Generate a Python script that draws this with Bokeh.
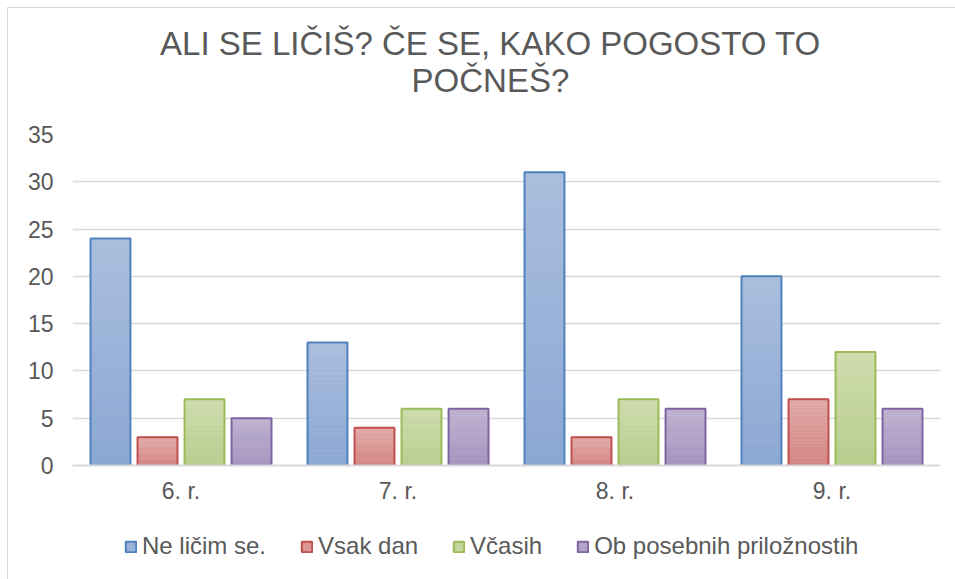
from bokeh.plotting import figure
from bokeh.models import ColumnDataSource, FactorRange, Legend, LegendItem, Label, BoxAnnotation
from bokeh.layouts import column
from bokeh.transform import dodge
from bokeh.embed import file_html
from bokeh.resources import INLINE

categories = ["6. r.", "7. r.", "8. r.", "9. r."]
series_names = ["Ne ličim se.", "Vsak dan", "Včasih", "Ob posebnih priložnostih"]
ne_licim = [24, 13, 31, 20]
vsak_dan = [3, 4, 3, 7]
vcasih = [7, 6, 7, 12]
ob_posebnih = [5, 6, 6, 6]
y_ticks = [0, 5, 10, 15, 20, 25, 30, 35]
title_lines = ["ALI SE LIČIŠ? ČE SE, KAKO POGOSTO TO", "POČNEŠ?"]

series_values = [ne_licim, vsak_dan, vcasih, ob_posebnih]
line_colors = ["#4F81BD", "#C0504D", "#9BBB59", "#8064A2"]
top_colors = ["#AABEDD", "#E1A9A7", "#CEDCAD", "#BFB2D0"]
bottom_colors = ["#8AA7D3", "#D38582", "#B8CD8D", "#A493BF"]
mid_colors = ["#9AB2D8", "#DA9794", "#C3D59D", "#B1A2C7"]

FONT = "Liberation Sans"
TEXT = "#595959"
GRID = "#D9D9D9"
W = 947


def strip(height, xr, yr):
    f = figure(width=W, height=height, x_range=xr, y_range=yr, output_backend="svg",
               toolbar_location=None, x_axis_location=None, y_axis_location=None, min_border=0)
    f.outline_line_color = None
    f.grid.grid_line_color = None
    return f


# ---- title strip ----
tt = strip(100, (0, W), (0, 100))
for txt, ty in zip(title_lines, [65, 28]):
    tt.add_layout(Label(x=456, y=ty, text=txt, text_align="center", text_baseline="middle",
                        text_font=FONT, text_font_size="33px", text_color=TEXT))

# ---- main chart ----
p = figure(width=W, height=408, x_range=FactorRange(*categories), y_range=(0, 35),
           output_backend="svg", toolbar_location=None, title=None,
           min_border_left=64, min_border_right=15, min_border_top=26, min_border_bottom=51)
p.outline_line_color = None

offsets = [-0.325, -0.1083, 0.1083, 0.325]
bar_w = 0.184
N = 24


def hex2rgb(h):
    return tuple(int(h[i:i + 2], 16) for i in (1, 3, 5))


def mix(c1, c2, t):
    a, b = hex2rgb(c1), hex2rgb(c2)
    return "#%02x%02x%02x" % tuple(round(a[i] + (b[i] - a[i]) * t) for i in range(3))


for s, vals in enumerate(series_values):
    base = ColumnDataSource(dict(cat=categories, val=vals))
    xs, bots, tops, cols = [], [], [], []
    for c, v in zip(categories, vals):
        for k in range(N):
            xs.append(c)
            bots.append(v * k / N)
            tops.append(v * (k + 1) / N)
            cols.append(mix(bottom_colors[s], top_colors[s], (k + 0.5) / N))
    grad = ColumnDataSource(dict(cat=xs, b=bots, t=tops, c=cols))
    p.vbar(x=dodge("cat", offsets[s], range=p.x_range), top="t", bottom="b", width=bar_w - 0.004,
           source=grad, fill_color="c", line_color="c", line_width=0.6)
    p.vbar(x=dodge("cat", offsets[s], range=p.x_range), top="val", bottom=0, width=bar_w,
           source=base, fill_color=None, line_color=line_colors[s], line_width=2)

p.ygrid.ticker = y_ticks
p.ygrid.grid_line_color = GRID
p.ygrid.grid_line_width = 1.5
p.xgrid.grid_line_color = None

p.yaxis.ticker = y_ticks
p.yaxis.axis_line_color = None
p.yaxis.major_tick_line_color = None
p.yaxis.minor_tick_line_color = None
p.yaxis.major_label_text_font = FONT
p.yaxis.major_label_text_font_size = "23px"
p.yaxis.major_label_text_color = TEXT
p.yaxis.major_label_standoff = 13

p.xaxis.axis_line_color = GRID
p.xaxis.axis_line_width = 2
p.xaxis.major_tick_line_color = None
p.xaxis.minor_tick_line_color = None
p.xaxis.major_label_text_font = FONT
p.xaxis.major_label_text_font_size = "23px"
p.xaxis.major_label_text_color = TEXT
p.xaxis.major_label_standoff = 6

# ---- legend strip: swatch bars sit outside its y-range and are masked by a white box ----
lg = strip(63, FactorRange(*categories), (1000, 1001))
legend_items = []
for s, (name, vals) in enumerate(zip(series_names, series_values)):
    src = ColumnDataSource(dict(cat=categories, val=vals))
    r = lg.vbar(x="cat", top="val", bottom=0, width=0.1, source=src, fill_color=mid_colors[s],
                line_color=line_colors[s], line_width=2)
    legend_items.append(LegendItem(label=name, renderers=[r]))
lg.add_layout(BoxAnnotation(fill_color="white", fill_alpha=1.0, line_color=None))
legend = Legend(items=legend_items, orientation="horizontal", location=(52, 19),
                label_text_font=FONT, label_text_font_size="24px", label_text_color=TEXT,
                glyph_width=13, glyph_height=13, label_standoff=5, spacing=34,
                border_line_color=None, background_fill_alpha=0, margin=0, padding=4)
lg.add_layout(legend)

layout = column(tt, p, lg, spacing=0)
layout.styles = {"margin-left": "7px", "margin-top": "7px",
                 "border-left": "1px solid #D9D9D9", "border-top": "1px solid #D9D9D9"}

open("out.html", "w").write(file_html(layout, INLINE))
